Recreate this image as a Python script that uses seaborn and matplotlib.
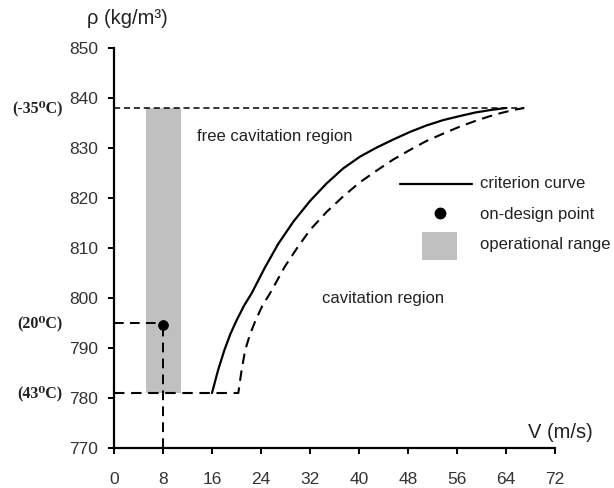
import numpy as np
import pandas as pd
import matplotlib
matplotlib.use("Agg")
import matplotlib.pyplot as plt
import matplotlib.transforms as mtransforms
from matplotlib.lines import Line2D
from matplotlib.patches import Rectangle
import seaborn as sns

# criterion curve (solid)
crit_v = [16.0, 17.0, 18.0, 19.0, 20.0, 21.2, 22.5, 24.6, 26.8, 29.3, 32.0, 34.7, 37.4,
          40.2, 42.9, 45.6, 48.3, 51.0, 53.8, 56.5, 59.0, 61.5, 64.0]
crit_rho = [781.0, 785.6, 789.5, 792.8, 795.5, 798.4, 801.0, 806.0, 810.8, 815.3, 819.4, 822.9, 825.9,
            828.3, 830.1, 831.7, 833.2, 834.5, 835.6, 836.4, 837.1, 837.6, 838.0]
# dashed curve (incl. horizontal part at 781)
dash_v = [0.0, 20.3, 20.8, 21.4, 22.2, 23.1, 24.2, 25.5, 27.9, 29.9, 32.0, 34.7, 37.4, 40.1,
          42.9, 45.6, 48.3, 51.0, 53.8, 56.5, 59.2, 61.2, 63.2, 65.2, 67.0]
dash_rho = [781.0, 781.0, 785.3, 789.5, 792.7, 795.5, 798.4, 801.0, 806.3, 810.0, 813.6, 817.2, 820.3, 823.1,
            825.5, 827.7, 829.6, 831.4, 832.9, 834.3, 835.5, 836.3, 837.0, 837.6, 838.0]
# reference lines
top_v = [0.0, 67.0]
top_rho = [838.0, 838.0]
design_v = [8.0]
design_rho = [794.7]
op_range_v = [5.3, 10.9]
op_range_rho = [781.0, 838.0]
temp_labels = ["(-35\u2070C)", "(20\u2070C)", "(43\u2070C)"]
temp_rho = [838.0, 795.0, 781.0]
x_ticks = [0, 8, 16, 24, 32, 40, 48, 56, 64, 72]
y_ticks = [770, 780, 790, 800, 810, 820, 830, 840, 850]
legend_labels = ["criterion curve", "on-design point", "operational range"]

sns.set_style("ticks")
plt.rcParams['font.family'] = ['Liberation Sans', 'DejaVu Sans']

W, H = 614, 488
fig = plt.figure(figsize=(W / 100, H / 100), dpi=100)
ax = fig.add_axes([114 / W, 1 - 448 / H, 441 / W, 400 / H])

gray = "#c0c0c0"
ax.fill_between(op_range_v, op_range_rho[0], op_range_rho[1], color=gray, lw=0, zorder=1)

dash_style = (0, (5, 3.2))
crit_df = pd.DataFrame({"V": crit_v, "rho": crit_rho})
dash_df = pd.DataFrame({"V": dash_v, "rho": dash_rho})
sns.lineplot(data=crit_df, x="V", y="rho", sort=False, color="black", lw=1.6, ax=ax, zorder=3)
sns.lineplot(data=dash_df, x="V", y="rho", sort=False, color="black", lw=1.5, ax=ax, zorder=3,
             linestyle="--")
ax.lines[-1].set_linestyle(dash_style)
ax.plot(top_v, top_rho, color="black", lw=1.1, linestyle=(0, (4, 2.5)), zorder=2)
# on-design point guides
ax.plot([0, design_v[0]], [795.0, 795.0], color="black", lw=1.4, linestyle=dash_style, zorder=2)
ax.plot([design_v[0], design_v[0]], [770, design_rho[0]], color="black", lw=1.4, linestyle=dash_style, zorder=2)
sns.scatterplot(x=design_v, y=design_rho, color="black", s=50, ax=ax, zorder=4, edgecolor="black")

ax.set_xlim(0, 72)
ax.set_ylim(770, 850)
ax.set_xticks(x_ticks)
ax.set_yticks(y_ticks)
ax.set_xlabel("")
ax.set_ylabel("")
for s in ["top", "right"]:
    ax.spines[s].set_visible(False)
for s in ["left", "bottom"]:
    ax.spines[s].set_linewidth(1.6)
    ax.spines[s].set_color("black")
ax.tick_params(axis="both", direction="out", length=4, width=1.4, labelsize=12.5,
               labelcolor="#333333", color="black")
ax.tick_params(axis="x", pad=13)
ax.tick_params(axis="y", pad=7.5)

ax.text(13.5, 832.2, "free cavitation region", fontsize=12, color="#222222", va="center", ha="left")
ax.text(34.0, 800.0, "cavitation region", fontsize=12, color="#222222", va="center", ha="left")

fig.text(127 / W, 1 - 18 / H, "ρ (kg/m³)", fontsize=14.5, ha="center", va="center", color="#222222")
fig.text(560 / W, 1 - 432 / H, "V (m/s)", fontsize=14.5, ha="center", va="center", color="#222222")

trans = mtransforms.blended_transform_factory(ax.transAxes, ax.transData)
for lab, r in zip(temp_labels, temp_rho):
    ax.text(-0.116, r, lab, transform=trans, ha="right", va="center", fontsize=11.5,
            fontweight="bold", family=["Liberation Serif", "DejaVu Serif"], color="#222222")

# legend (drawn manually in figure pixel positions)
ft = fig.transFigure
fig.add_artist(Line2D([400 / W, 472 / W], [1 - 184 / H, 1 - 184 / H], color="black", lw=1.6, transform=ft))
fig.add_artist(Line2D([440 / W], [1 - 213 / H], marker="o", color="black", markersize=7.5, lw=0, transform=ft))
fig.add_artist(Rectangle((422 / W, 1 - 260 / H), 35 / W, 28 / H, facecolor=gray, edgecolor="none", transform=ft))
for lab, yy in zip(legend_labels, [184, 214, 245]):
    fig.text(480 / W, 1 - yy / H, lab, fontsize=12, ha="left", va="center", color="#222222")

fig.savefig("out.png", dpi=100)
